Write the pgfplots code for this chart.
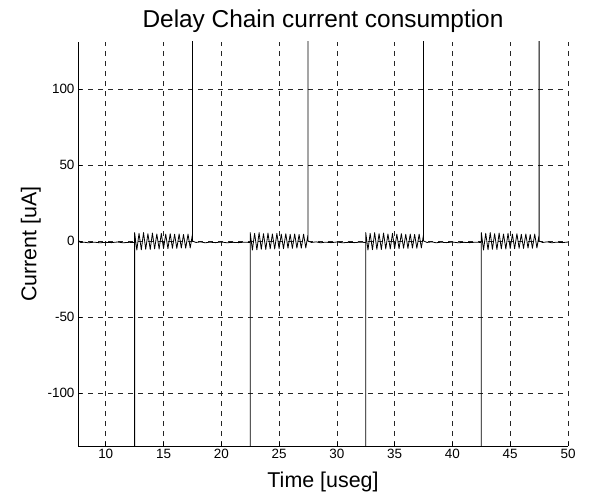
\documentclass[border=0pt]{standalone}
\usepackage{pgfplots}
\pgfplotsset{compat=1.18}
\usepackage{fontspec}
\setmainfont{Liberation Sans}
\begin{document}
\begin{tikzpicture}
\path[use as bounding box] (0,0) rectangle (607bp,497bp);
\begin{axis}[
  at={(78bp,51bp)}, anchor=south west,
  scale only axis, width=490bp, height=404bp,
  xmin=7.6, xmax=50, ymin=-135, ymax=131,
  axis lines*=left,
  axis line style={black, line width=0.6bp},
  tick align=inside,
  major tick length=4bp,
  tick style={black, line width=0.6bp},
  xtick={10,15,20,25,30,35,40,45,50},
  ytick={-100,-50,0,50,100},
  grid=major,
  major grid style={black!85, line width=0.5bp, dash pattern=on 5bp off 5bp},
  /pgf/number format/assume math mode=true,
  tick label style={font=\fontsize{13.5}{16}\selectfont},
  title={Delay Chain current consumption},
  title style={at={(axis description cs:0.5,1.0347)}, anchor=base, yshift=-6pt, font=\fontsize{24.5}{28}\selectfont},
  xlabel={Time [useg]},
  xlabel style={at={(axis description cs:0.5,-0.1015)}, anchor=base, font=\fontsize{21.5}{25}\selectfont},
  ylabel={Current [uA]},
  ylabel style={at={(axis description cs:-0.085,0.5)}, anchor=base, rotate=0, font=\fontsize{21.5}{25}\selectfont},
]
\addplot[black, line width=0.8bp, line join=round] coordinates {
(7.60,1.5) (7.70,-0.4) (7.85,-1.1) (8.1,-0.8) (8.5,-1.2) (9.0,-0.8) (9.5,-1.2) (10.0,-0.9) (10.5,-1.1) (11.0,-0.7) (11.5,-1.2) (12.0,-0.9) (12.5,-1.0)
(12.5,-300) (12.50,5.5)
(12.69,-6.0) (12.88,5.0) (13.08,-5.8) (13.27,5.5) (13.46,-5.5) (13.65,4.8) (13.85,-5.6) (14.04,5.2) (14.23,-5.2) (14.42,4.6) (14.62,-5.3) (14.81,5.0) (15.00,-5.0) (15.19,4.5) (15.38,-5.1) (15.58,4.8) (15.77,-4.8) (15.96,4.4) (16.15,-4.9) (16.35,4.6) (16.54,-4.7) (16.73,4.3) (16.92,-4.8) (17.12,4.5) (17.31,-4.6) (17.50,4.2)
(17.5,300) (17.5,0.0) (17.8,-1.0) (18.2,-0.6) (18.6,-1.2) (19.0,-0.8) (19.5,-1.1) (20.0,-0.7) (20.5,-1.2) (21.0,-0.9) (21.5,-1.1) (22.0,-0.8) (22.5,-1.0)
(22.5,-300) (22.50,5.5)
(22.69,-6.0) (22.88,5.0) (23.08,-5.8) (23.27,5.5) (23.46,-5.5) (23.65,4.8) (23.85,-5.6) (24.04,5.2) (24.23,-5.2) (24.42,4.6) (24.62,-5.3) (24.81,5.0) (25.00,-5.0) (25.19,4.5) (25.38,-5.1) (25.58,4.8) (25.77,-4.8) (25.96,4.4) (26.15,-4.9) (26.35,4.6) (26.54,-4.7) (26.73,4.3) (26.92,-4.8) (27.12,4.5) (27.31,-4.6) (27.50,4.2)
(27.5,300) (27.5,0.0) (27.8,-1.0) (28.2,-0.6) (28.6,-1.2) (29.0,-0.8) (29.5,-1.1) (30.0,-0.7) (30.5,-1.2) (31.0,-0.9) (31.5,-1.1) (32.0,-0.8) (32.5,-1.0)
(32.5,-300) (32.50,5.5)
(32.69,-6.0) (32.88,5.0) (33.08,-5.8) (33.27,5.5) (33.46,-5.5) (33.65,4.8) (33.85,-5.6) (34.04,5.2) (34.23,-5.2) (34.42,4.6) (34.62,-5.3) (34.81,5.0) (35.00,-5.0) (35.19,4.5) (35.38,-5.1) (35.58,4.8) (35.77,-4.8) (35.96,4.4) (36.15,-4.9) (36.35,4.6) (36.54,-4.7) (36.73,4.3) (36.92,-4.8) (37.12,4.5) (37.31,-4.6) (37.50,4.2)
(37.5,300) (37.5,0.0) (37.8,-1.0) (38.2,-0.6) (38.6,-1.2) (39.0,-0.8) (39.5,-1.1) (40.0,-0.7) (40.5,-1.2) (41.0,-0.9) (41.5,-1.1) (42.0,-0.8) (42.5,-1.0)
(42.5,-300) (42.50,5.5)
(42.69,-6.0) (42.88,5.0) (43.08,-5.8) (43.27,5.5) (43.46,-5.5) (43.65,4.8) (43.85,-5.6) (44.04,5.2) (44.23,-5.2) (44.42,4.6) (44.62,-5.3) (44.81,5.0) (45.00,-5.0) (45.19,4.5) (45.38,-5.1) (45.58,4.8) (45.77,-4.8) (45.96,4.4) (46.15,-4.9) (46.35,4.6) (46.54,-4.7) (46.73,4.3) (46.92,-4.8) (47.12,4.5) (47.31,-4.6) (47.50,4.2)
(47.5,300) (47.5,0.0) (47.8,-1.0) (48.2,-0.6) (48.6,-1.2) (49.0,-0.8) (49.5,-1.1) (50.0,-0.7)
};
\end{axis}
\end{tikzpicture}
\end{document}
